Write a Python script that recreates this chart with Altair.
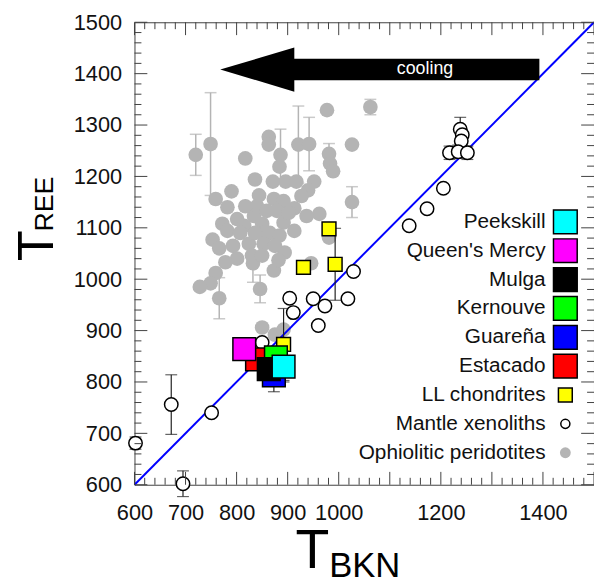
import altair as alt
import pandas as pd
import numpy as np

# ---------------- data ----------------
# Ophiolitic peridotites (grey)
oph_x = [720, 749, 817, 863, 863, 886, 884, 921, 942, 977, 1062, 1026, 981, 983, 989, 836, 871, 896, 917, 952,
         940, 844, 873, 892, 913, 962, 1026, 759, 782, 772, 801, 815, 834, 850, 853, 865, 753, 793, 892, 824,
         853, 832, 894, 873, 946, 981, 759, 749, 728, 766, 846, 850, 875, 892,
         782, 807, 840, 859, 879, 884, 875, 830, 801, 778, 766, 836, 817, 902, 927, 937, 913, 790, 882, 850]
oph_y = [1242, 1263, 1235, 1277, 1262, 1242, 1219, 1262, 1263, 1329, 1335, 1262, 1244, 1225, 1210, 1194, 1190, 1190, 1190, 1190,
         1173, 1163, 1156, 1152, 1138, 1127, 1150, 1156, 1140, 1108, 1117, 1104, 1123, 1108, 1090, 1090, 1077, 1065, 1110, 1069,
         1069, 1031, 1052, 1017, 1031, 1081, 1012, 992, 985, 963, 981, 906, 892, 902,
         1094, 1090, 1142, 1133, 1133, 1085, 1065, 1046, 1040, 1033, 1060, 1090, 1142, 1129, 1162, 1123, 1094, 1171, 1037, 1046]
oph_err = [40, 100, 0, 0, 0, 50, 0, 75, 52, 0, 15, 0, 20, 0, 0, 0, 0, 0, 0, 0,
           0, 0, 0, 0, 0, 0, 30, 0, 0, 0, 0, 0, 0, 0, 0, 0, 0, 0, 0, 0,
           0, 37, 0, 0, 0, 0, 0, 0, 0, 40, 27, 0, 0, 0,
           0, 0, 0, 0, 0, 0, 0, 0, 0, 0, 0, 0, 0, 0, 0, 0, 0, 0, 0, 0]

# Mantle xenoliths (white circles)
xen_x = [1238, 1242, 1240, 1217, 1234, 1252, 1205, 1173, 1138, 1029, 1018, 973, 950, 960, 904, 911, 850, 672, 751, 602, 695]
xen_y = [1292, 1281, 1269, 1246, 1248, 1246, 1177, 1137, 1104, 1015, 962, 948, 962, 910, 963, 935, 877, 756, 740, 681, 602]
xen_err = [23, 0, 0, 13, 13, 13, 0, 0, 0, 0, 0, 0, 0, 0, 0, 0, 0, 58, 0, 12, 25]

# LL chondrites (yellow squares)
ll_x = [981, 993, 931, 892]
ll_y = [1098, 1029, 1023, 873]
ll_err = [0, 70, 0, 70]

# Meteorites (big squares), listed in legend order
met_names = ["Peekskill", "Queen's Mercy", "Mulga", "Kernouve", "Guareña", "Estacado"]
met_colors = ["#00ffff", "#ff00ff", "#000000", "#00ff00", "#0000ff", "#ff0000"]
met_x = [892, 815, 863, 877, 873, 840]
met_y = [830, 864, 825, 848, 813, 844]
met_err = [30, 0, 0, 0, 32, 0]
met_draw_order = [5, 4, 3, 1, 2, 0]  # Estacado first ... Peekskill on top

legend_labels = met_names + ["LL chondrites", "Mantle xenoliths", "Ophiolitic peridotites"]

one_to_one = [600, 1500]
x_tick_labels = [600, 700, 800, 900, 1000, 1200, 1400]
y_tick_labels = [600, 700, 800, 900, 1000, 1100, 1200, 1300, 1400, 1500]

# cooling arrow (data coords)
arrow_tip_x, arrow_head_x, arrow_tail_x = 768, 913, 1393
arrow_mid_y, arrow_shaft_half, arrow_head_half = 1408, 21, 43

# ---------------- layout ----------------
W, H = 465, 468
FONT = "Liberation Sans"
AX = "#404040"
GREY = "#b4b4b4"

xs = alt.Scale(domain=[600, 1500], nice=False, zero=False)
ys = alt.Scale(domain=[600, 1500], nice=False, zero=False)
xaxis = alt.Axis(values=x_tick_labels, title=None, ticks=False, domain=False, grid=False, format="d",
                 labelFontSize=22, labelFont=FONT, labelColor="#111", labelPadding=18,
                 labelFlush=False, labelOverlap=False)
yaxis = alt.Axis(values=y_tick_labels, title=None, ticks=False, domain=False, grid=False, format="d",
                 labelFontSize=22, labelFont=FONT, labelColor="#111", labelPadding=13,
                 labelFlush=False, labelOverlap=False)


def X(f):
    return alt.X(f, type="quantitative", scale=xs, axis=xaxis)


def Y(f):
    return alt.Y(f, type="quantitative", scale=ys, axis=yaxis)


oph = pd.DataFrame({"x": oph_x, "y": oph_y, "e": oph_err})
xen = pd.DataFrame({"x": xen_x, "y": xen_y, "e": xen_err})
ll = pd.DataFrame({"x": ll_x, "y": ll_y, "e": ll_err})
met = pd.DataFrame({"name": met_names, "col": met_colors, "x": met_x, "y": met_y, "e": met_err}).iloc[met_draw_order]


def errbars(df, color, width=1.3):
    d = df[df["e"] > 0].copy()
    d["lo"] = d["y"] - d["e"]
    d["hi"] = d["y"] + d["e"]
    bar = alt.Chart(d).mark_rule(color=color, strokeWidth=width).encode(x=X("x"), y=Y("lo"), y2="hi")
    cap_hi = alt.Chart(d).mark_tick(orient="horizontal", color=color, size=12, thickness=width).encode(x=X("x"), y=Y("hi"))
    cap_lo = alt.Chart(d).mark_tick(orient="horizontal", color=color, size=12, thickness=width).encode(x=X("x"), y=Y("lo"))
    return [bar, cap_hi, cap_lo]


layers = []
layers += errbars(oph, GREY, 1.5)
layers.append(alt.Chart(oph).mark_circle(size=220, color=GREY, opacity=1).encode(x=X("x"), y=Y("y")))

diag = pd.DataFrame({"x": one_to_one, "y": one_to_one})
layers.append(alt.Chart(diag).mark_line(color="#0000ff", strokeWidth=2).encode(x=X("x"), y=Y("y")))

layers += errbars(xen, "#222", 1.2)
layers += errbars(ll, "#222", 1.2)
layers.append(alt.Chart(xen).mark_point(shape="circle", filled=True, fill="white", stroke="black",
                                        strokeWidth=1.5, size=185, opacity=1).encode(x=X("x"), y=Y("y")))
layers.append(alt.Chart(ll).mark_square(size=196, fill="#ffff00", stroke="black", strokeWidth=1.5,
                                        opacity=1).encode(x=X("x"), y=Y("y")))
layers += errbars(met, "#222", 1.2)
layers.append(alt.Chart(met).mark_square(size=529, stroke="black", strokeWidth=1.5, opacity=1).encode(
    x=X("x"), y=Y("y"), color=alt.Color("col:N", scale=None)))

# inward ticks on all four sides
tick_vals = list(range(600, 1501, 20))
maj = pd.DataFrame({"v": [v for v in tick_vals if v % 100 == 0]})
mnr = pd.DataFrame({"v": [v for v in tick_vals if v % 100 != 0]})
for df, L in ((maj, 13), (mnr, 7)):
    layers.append(alt.Chart(df).mark_rule(color=AX, strokeWidth=1).encode(y=Y("v"), x=alt.value(0), x2=alt.value(L)))
    layers.append(alt.Chart(df).mark_rule(color=AX, strokeWidth=1).encode(y=Y("v"), x=alt.value(W), x2=alt.value(W - L)))
    layers.append(alt.Chart(df).mark_rule(color=AX, strokeWidth=1).encode(x=X("v"), y=alt.value(H), y2=alt.value(H - L)))
    layers.append(alt.Chart(df).mark_rule(color=AX, strokeWidth=1).encode(x=X("v"), y=alt.value(0), y2=alt.value(L)))

# cooling arrow
shaft = pd.DataFrame({"x": [arrow_head_x - 2], "x2": [arrow_tail_x],
                      "y": [arrow_mid_y - arrow_shaft_half], "y2": [arrow_mid_y + arrow_shaft_half]})
layers.append(alt.Chart(shaft).mark_rect(color="black").encode(x=X("x"), x2="x2", y=Y("y"), y2="y2"))
head = pd.DataFrame({"x": [arrow_tip_x, arrow_head_x],
                     "y": [arrow_mid_y, arrow_mid_y - arrow_head_half],
                     "y2": [arrow_mid_y, arrow_mid_y + arrow_head_half]})
layers.append(alt.Chart(head).mark_area(color="black", opacity=1).encode(x=X("x"), y=Y("y"), y2="y2"))
cool = pd.DataFrame({"x": [1169], "y": [arrow_mid_y], "t": ["cooling"]})
layers.append(alt.Chart(cool).mark_text(color="white", fontSize=18, font=FONT, baseline="middle").encode(
    x=X("x"), y=Y("y"), text="t:N"))

# legend
leg = pd.DataFrame({"label": legend_labels, "row": list(range(len(legend_labels))),
                    "col": met_colors + ["#ffff00", "white", GREY]})
LEG_Y0, LEG_DY = 202, 29.2
ly = alt.Y("ly:Q", scale=None, axis=None)
legbase = alt.Chart(leg).transform_calculate(ly=f"{LEG_Y0} + datum.row * {LEG_DY}")
layers.append(legbase.mark_text(align="right", baseline="middle", fontSize=21, font=FONT, color="#111").encode(
    x=alt.value(416), y=ly, text="label:N"))
layers.append(legbase.transform_filter("datum.row < 6").mark_square(size=576, stroke="black", strokeWidth=1.5,
                                                                    opacity=1).encode(
    x=alt.value(436), y=ly, color=alt.Color("col:N", scale=None)))
layers.append(legbase.transform_filter("datum.row == 6").mark_square(size=196, fill="#ffff00", stroke="black",
                                                                     strokeWidth=1.5, opacity=1).encode(
    x=alt.value(436), y=ly))
layers.append(legbase.transform_filter("datum.row == 7").mark_point(shape="circle", filled=True, fill="white",
                                                                    stroke="black", strokeWidth=1.5, size=85,
                                                                    opacity=1).encode(x=alt.value(436), y=ly))
layers.append(legbase.transform_filter("datum.row == 8").mark_circle(size=120, color=GREY, opacity=1).encode(
    x=alt.value(436), y=ly))

# axis titles (T with subscripts)
dummy = pd.DataFrame({"a": [0]})
layers.append(alt.Chart(dummy).mark_text(text="T", fontSize=56, font=FONT, align="center", baseline="alphabetic",
                                         color="black").encode(x=alt.value(180), y=alt.value(552)))
layers.append(alt.Chart(dummy).mark_text(text="BKN", fontSize=35, font=FONT, align="left", baseline="alphabetic",
                                         color="black").encode(x=alt.value(197), y=alt.value(561)))
layers.append(alt.Chart(dummy).mark_text(text="T", fontSize=51, font=FONT, align="center", baseline="alphabetic",
                                         angle=270, color="black").encode(x=alt.value(-82), y=alt.value(226)))
layers.append(alt.Chart(dummy).mark_text(text="REE", fontSize=27, font=FONT, align="center", baseline="alphabetic",
                                         angle=270, color="black").encode(x=alt.value(-82), y=alt.value(184)))

chart = alt.layer(*layers).properties(
    width=W, height=H,
    padding={"left": 128, "top": 11, "right": 0, "bottom": 97},
    autosize=alt.AutoSizeParams(type="none"),
    background="white",
).configure_view(stroke=AX, strokeWidth=1)

chart.save("out.html", embed_options={"renderer": "svg", "actions": False})
